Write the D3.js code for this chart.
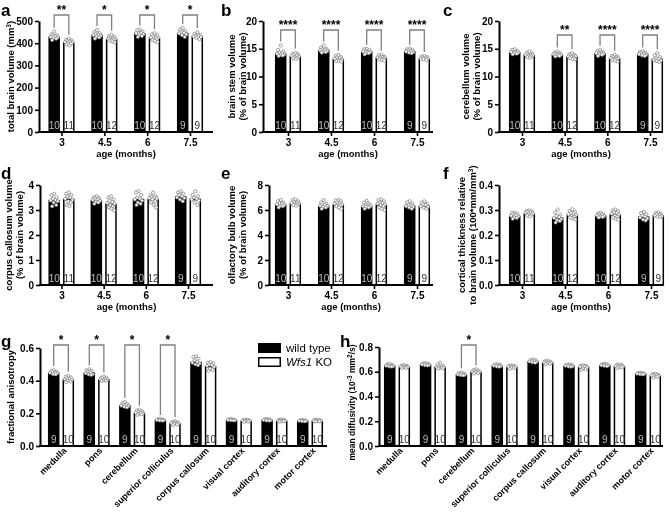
<!DOCTYPE html>
<html><head><meta charset="utf-8">
<script src="https://cdn.jsdelivr.net/npm/d3@7"></script>
<style>body{margin:0;background:#fff}svg{display:block;font-family:"Liberation Sans",Arial,sans-serif;will-change:transform}</style>
</head><body><script>
// ---------- categories ----------
const ages = ["3", "4.5", "6", "7.5"];
const regions = ["medulla", "pons", "cerebellum", "superior colliculus", "corpus callosum", "visual cortex", "auditory cortex", "motor cortex"];
const nAgeWT = [10, 10, 10, 9];
const nAgeKO = [11, 12, 12, 9];
const nRegWT = [9, 9, 9, 9, 9, 9, 9, 9];
const nRegKO = [10, 10, 10, 10, 10, 10, 10, 10];

// ---------- a: total brain volume ----------
const aMeanWT = [430, 438, 445, 447];
const aMeanKO = [405, 420, 425, 432];
const aDotsWT = [
  [452, 440, 436, 433, 430, 428, 426, 424, 420, 414],
  [460, 450, 445, 441, 438, 436, 433, 430, 426, 421],
  [462, 458, 452, 448, 446, 444, 441, 438, 432, 428],
  [468, 460, 454, 450, 447, 444, 440, 436, 428]];
const aDotsKO = [
  [420, 415, 412, 410, 407, 405, 403, 400, 398, 395, 390],
  [438, 432, 428, 425, 422, 420, 418, 416, 414, 412, 408, 404],
  [445, 440, 436, 432, 428, 426, 424, 421, 418, 414, 410, 405],
  [450, 442, 438, 434, 432, 430, 428, 424, 418]];
const aSig = ["**", "*", "*", "*"];
const aTicks = [0, 100, 200, 300, 400, 500];

// ---------- b: brain stem ----------
const bMeanWT = [14.2, 14.8, 14.5, 14.6];
const bMeanKO = [13.7, 13.2, 13.4, 13.3];
const bDotsWT = [
  [15.6, 14.8, 14.5, 14.3, 14.2, 14.1, 14.0, 13.9, 13.8, 13.7],
  [15.6, 15.2, 15.0, 14.9, 14.8, 14.7, 14.6, 14.5, 14.4, 14.3],
  [15.0, 14.9, 14.8, 14.6, 14.5, 14.5, 14.4, 14.3, 14.2, 14.0],
  [15.0, 14.9, 14.8, 14.7, 14.6, 14.5, 14.4, 14.3, 14.2]];
const bDotsKO = [
  [14.3, 14.1, 14.0, 13.9, 13.8, 13.7, 13.6, 13.5, 13.4, 13.3, 13.2],
  [13.9, 13.7, 13.5, 13.4, 13.3, 13.2, 13.1, 13.0, 12.9, 12.8, 12.8, 12.7],
  [13.9, 13.8, 13.6, 13.5, 13.5, 13.4, 13.4, 13.3, 13.2, 13.1, 13.0, 12.9],
  [13.7, 13.6, 13.5, 13.4, 13.3, 13.2, 13.2, 13.1, 13.0]];
const bSig = ["****", "****", "****", "****"];
const pctTicks = [0, 5, 10, 15, 20];

// ---------- c: cerebellum ----------
const cMeanWT = [14.4, 14.0, 14.2, 14.1];
const cMeanKO = [13.9, 13.6, 13.3, 13.2];
const cDotsWT = [
  [14.9, 14.8, 14.6, 14.5, 14.4, 14.4, 14.3, 14.2, 14.1, 14.0],
  [14.5, 14.3, 14.2, 14.1, 14.0, 14.0, 13.9, 13.8, 13.7, 13.6],
  [14.8, 14.6, 14.4, 14.3, 14.2, 14.2, 14.1, 14.0, 13.9, 13.7],
  [14.5, 14.4, 14.3, 14.2, 14.1, 14.0, 13.9, 13.8, 13.7]];
const cDotsKO = [
  [14.5, 14.3, 14.2, 14.0, 13.9, 13.9, 13.8, 13.7, 13.6, 13.5, 13.4],
  [14.2, 14.0, 13.9, 13.8, 13.7, 13.6, 13.6, 13.5, 13.4, 13.3, 13.2, 13.1],
  [13.9, 13.7, 13.6, 13.5, 13.4, 13.3, 13.3, 13.2, 13.1, 13.0, 12.9, 12.7],
  [14.2, 13.8, 13.5, 13.3, 13.2, 13.0, 12.9, 12.8, 12.6]];
const cSig = ["", "**", "****", "****"];

// ---------- d: corpus callosum ----------
const dMeanWT = [3.4, 3.4, 3.45, 3.55];
const dMeanKO = [3.45, 3.25, 3.45, 3.45];
const dDotsWT = [
  [3.65, 3.6, 3.5, 3.45, 3.4, 3.38, 3.35, 3.3, 3.2, 3.15],
  [3.55, 3.5, 3.48, 3.45, 3.42, 3.4, 3.37, 3.33, 3.3, 3.25],
  [3.75, 3.7, 3.6, 3.5, 3.45, 3.42, 3.38, 3.3, 3.25, 3.2],
  [3.75, 3.7, 3.65, 3.6, 3.55, 3.5, 3.48, 3.42, 3.35]];
const dDotsKO = [
  [3.7, 3.65, 3.6, 3.55, 3.5, 3.45, 3.4, 3.35, 3.3, 3.2, 3.15],
  [3.55, 3.5, 3.42, 3.38, 3.32, 3.28, 3.25, 3.2, 3.15, 3.1, 3.05, 2.98],
  [3.7, 3.6, 3.55, 3.52, 3.5, 3.47, 3.45, 3.42, 3.35, 3.3, 3.2, 3.1],
  [3.75, 3.6, 3.55, 3.5, 3.45, 3.42, 3.38, 3.3, 3.2]];
const dTicks = [0, 1, 2, 3, 4];

// ---------- e: olfactory bulb ----------
const eMeanWT = [6.45, 6.35, 6.35, 6.35];
const eMeanKO = [6.55, 6.45, 6.45, 6.35];
const eDotsWT = [
  [6.8, 6.7, 6.6, 6.55, 6.5, 6.45, 6.4, 6.35, 6.3, 6.2],
  [6.8, 6.6, 6.5, 6.45, 6.4, 6.35, 6.3, 6.25, 6.2, 6.1],
  [6.75, 6.6, 6.5, 6.4, 6.35, 6.3, 6.3, 6.25, 6.2, 6.1],
  [6.7, 6.6, 6.5, 6.4, 6.35, 6.3, 6.25, 6.2, 6.1]];
const eDotsKO = [
  [6.85, 6.8, 6.7, 6.65, 6.6, 6.55, 6.5, 6.5, 6.45, 6.4, 6.35],
  [6.8, 6.75, 6.7, 6.6, 6.55, 6.5, 6.45, 6.4, 6.35, 6.3, 6.2, 6.1],
  [6.85, 6.8, 6.7, 6.6, 6.55, 6.5, 6.45, 6.4, 6.3, 6.2, 6.1, 6.0],
  [6.7, 6.6, 6.5, 6.45, 6.4, 6.3, 6.25, 6.2, 6.1]];
const eTicks = [0, 2, 4, 6, 8];

// ---------- f: cortical thickness ----------
const fMeanWT = [0.277, 0.270, 0.278, 0.274];
const fMeanKO = [0.287, 0.281, 0.283, 0.280];
const fDotsWT = [
  [0.290, 0.288, 0.285, 0.282, 0.279, 0.277, 0.274, 0.271, 0.268, 0.265],
  [0.302, 0.290, 0.282, 0.276, 0.272, 0.268, 0.264, 0.260, 0.256, 0.250],
  [0.288, 0.286, 0.284, 0.282, 0.280, 0.278, 0.276, 0.274, 0.272, 0.270],
  [0.292, 0.288, 0.283, 0.278, 0.274, 0.270, 0.266, 0.262, 0.258]];
const fDotsKO = [
  [0.298, 0.296, 0.294, 0.292, 0.290, 0.288, 0.286, 0.284, 0.281, 0.278, 0.275],
  [0.303, 0.296, 0.292, 0.288, 0.285, 0.282, 0.279, 0.276, 0.273, 0.270, 0.266, 0.262],
  [0.302, 0.298, 0.295, 0.291, 0.288, 0.285, 0.282, 0.278, 0.274, 0.270, 0.265, 0.262],
  [0.290, 0.288, 0.285, 0.283, 0.280, 0.278, 0.276, 0.274, 0.272]];
const fTicks = [0, 0.1, 0.2, 0.3, 0.4];

// ---------- g: fractional anisotropy ----------
const gMeanWT = [0.45, 0.45, 0.25, 0.16, 0.515, 0.16, 0.16, 0.155];
const gMeanKO = [0.41, 0.41, 0.205, 0.14, 0.49, 0.155, 0.155, 0.155];
const gDotsWT = [
  [0.465, 0.46, 0.455, 0.452, 0.45, 0.448, 0.445, 0.44, 0.438],
  [0.47, 0.465, 0.46, 0.455, 0.45, 0.445, 0.44, 0.438, 0.435],
  [0.27, 0.262, 0.258, 0.254, 0.25, 0.247, 0.244, 0.24, 0.236],
  [0.166, 0.164, 0.162, 0.161, 0.16, 0.159, 0.158, 0.156, 0.155],
  [0.55, 0.545, 0.535, 0.525, 0.515, 0.51, 0.505, 0.5, 0.495],
  [0.165, 0.163, 0.162, 0.161, 0.16, 0.159, 0.158, 0.157, 0.156],
  [0.166, 0.164, 0.163, 0.161, 0.16, 0.159, 0.157, 0.156, 0.155],
  [0.16, 0.158, 0.157, 0.156, 0.155, 0.154, 0.153, 0.152, 0.151]];
const gDotsKO = [
  [0.43, 0.425, 0.42, 0.415, 0.41, 0.408, 0.405, 0.4, 0.395, 0.39],
  [0.425, 0.42, 0.418, 0.415, 0.41, 0.408, 0.405, 0.402, 0.4, 0.398],
  [0.222, 0.218, 0.214, 0.21, 0.206, 0.204, 0.2, 0.197, 0.194, 0.19],
  [0.152, 0.148, 0.145, 0.143, 0.141, 0.14, 0.138, 0.135, 0.132, 0.128],
  [0.515, 0.51, 0.505, 0.5, 0.495, 0.49, 0.485, 0.475, 0.465, 0.46],
  [0.162, 0.16, 0.158, 0.157, 0.156, 0.155, 0.154, 0.152, 0.15, 0.148],
  [0.163, 0.161, 0.159, 0.157, 0.156, 0.155, 0.154, 0.152, 0.15, 0.149],
  [0.162, 0.16, 0.158, 0.157, 0.156, 0.155, 0.154, 0.152, 0.151, 0.15]];
const gSig = ["*", "*", "*", "*", "", "", "", ""];
const gTicks = [0, 0.2, 0.4, 0.6];

// ---------- h: mean diffusivity ----------
const hMeanWT = [0.65, 0.66, 0.58, 0.65, 0.685, 0.65, 0.655, 0.585];
const hMeanKO = [0.64, 0.64, 0.60, 0.64, 0.675, 0.64, 0.645, 0.57];
const hDotsWT = [
  [0.665, 0.66, 0.655, 0.652, 0.65, 0.648, 0.645, 0.642, 0.64],
  [0.672, 0.668, 0.665, 0.662, 0.66, 0.658, 0.655, 0.652, 0.65],
  [0.595, 0.59, 0.585, 0.582, 0.58, 0.578, 0.575, 0.572, 0.57],
  [0.662, 0.66, 0.656, 0.652, 0.65, 0.648, 0.645, 0.642, 0.64],
  [0.7, 0.695, 0.692, 0.688, 0.685, 0.682, 0.68, 0.676, 0.672],
  [0.66, 0.658, 0.655, 0.652, 0.65, 0.648, 0.645, 0.642, 0.64],
  [0.665, 0.662, 0.66, 0.657, 0.655, 0.652, 0.65, 0.648, 0.645],
  [0.592, 0.59, 0.588, 0.586, 0.585, 0.584, 0.582, 0.58, 0.578]];
const hDotsKO = [
  [0.655, 0.65, 0.648, 0.645, 0.642, 0.64, 0.638, 0.635, 0.632, 0.63],
  [0.675, 0.66, 0.65, 0.645, 0.64, 0.638, 0.635, 0.632, 0.63, 0.628],
  [0.62, 0.615, 0.61, 0.605, 0.602, 0.6, 0.598, 0.595, 0.59, 0.585],
  [0.652, 0.65, 0.648, 0.645, 0.642, 0.64, 0.637, 0.634, 0.63, 0.625],
  [0.69, 0.686, 0.682, 0.679, 0.676, 0.674, 0.671, 0.668, 0.664, 0.66],
  [0.652, 0.65, 0.648, 0.645, 0.642, 0.64, 0.635, 0.628, 0.62, 0.615],
  [0.66, 0.657, 0.654, 0.65, 0.647, 0.645, 0.642, 0.638, 0.634, 0.63],
  [0.585, 0.582, 0.578, 0.575, 0.572, 0.57, 0.567, 0.563, 0.558, 0.552]];
const hSig = ["", "", "*", "", "", "", "", ""];
const hTicks = [0, 0.2, 0.4, 0.6, 0.8];

const legendLabels = [[{t: "wild type"}], [{t: "Wfs1", it: 1}, {t: " KO"}]];

// ---------- drawing ----------
const FONT = '"Liberation Sans", Arial, sans-serif';
const svg = d3.select("body").append("svg").attr("width", 669).attr("height", 513);
const jit = [0, -0.62, 0.62, -0.32, 0.32, -0.85, 0.85, -0.15, 0.48, -0.48, 0.15, 0.72];

function segs(sel, parts) {
  parts.forEach(p => {
    const t = sel.append("tspan").text(p.t);
    if (p.sup) t.attr("baseline-shift", "super").attr("font-size", "6.5px");
    if (p.it) t.attr("font-style", "italic");
  });
}

function panel(o) {
  const g = svg.append("g").attr("font-family", FONT);
  const y = d3.scaleLinear().domain([0, o.max]).range([o.yB, o.yT]);
  const x = d3.scalePoint().domain(o.cats).range([o.c0, o.c1]);
  const bw = o.bw, off = o.off;

  o.cats.forEach((c, i) => {
    const xw = x(c) - off, xk = x(c) + off;
    g.append("rect").attr("x", xw - bw / 2).attr("y", y(o.mWT[i])).attr("width", bw)
      .attr("height", o.yB - y(o.mWT[i])).attr("fill", "#000");
    g.append("rect").attr("x", xk - bw / 2 + 0.75).attr("y", y(o.mKO[i]) + 0.75).attr("width", bw - 1.5)
      .attr("height", o.yB - y(o.mKO[i]) - 0.75).attr("fill", "#fff").attr("stroke", "#000").attr("stroke-width", 1.5);
    g.append("text").attr("x", xw).attr("y", o.yB - 3).attr("text-anchor", "middle")
      .attr("font-size", o.nfs).attr("fill", "#bdbdbd").text(o.nWT[i]);
    g.append("text").attr("x", xk).attr("y", o.yB - 3).attr("text-anchor", "middle")
      .attr("font-size", o.nfs).attr("fill", "#333").text(o.nKO[i]);
    [[o.dWT[i], xw], [o.dKO[i], xk]].forEach(([vals, bx]) => {
      vals.slice().sort((a, b) => b - a).forEach((v, j) => {
        g.append("circle").attr("cx", bx + jit[j % jit.length] * (bw / 2 - 1.5)).attr("cy", y(v)).attr("r", o.r)
          .attr("fill", "#fff").attr("stroke", "#7a7a7a").attr("stroke-width", 0.7);
      });
    });
    if (o.sig[i]) {
      const yl = y(d3.max(o.dWT[i])) - 4, yr = y(d3.max(o.dKO[i])) - 4;
      g.append("path").attr("d", `M${xw},${yl}V${o.brY}H${xk}V${yr}`).attr("fill", "none")
        .attr("stroke", "#808080").attr("stroke-width", 1.3);
      g.append("text").attr("x", (xw + xk) / 2).attr("y", o.brY - 1).attr("text-anchor", "middle")
        .attr("font-weight", "bold").attr("font-size", 12).text(o.sig[i]);
    }
  });

  // y axis
  const ya = g.append("g").attr("transform", `translate(${o.x0},0)`)
    .call(d3.axisLeft(y).tickValues(o.ticks).tickFormat(o.fmt).tickSize(4).tickSizeOuter(0));
  ya.attr("font-family", FONT);
  ya.select(".domain").attr("stroke-width", 2);
  ya.selectAll(".tick line").attr("stroke-width", 1.6);
  ya.selectAll(".tick text").attr("x", -6).attr("font-size", 10).attr("font-weight", "bold").attr("fill", "#000");
  // x axis line
  g.append("line").attr("x1", o.x0 - 1).attr("x2", o.x1).attr("y1", o.yB).attr("y2", o.yB)
    .attr("stroke", "#000").attr("stroke-width", 2);
  if (!o.rotate) {
    const xa = g.append("g").attr("transform", `translate(0,${o.yB})`)
      .call(d3.axisBottom(x).tickSize(4).tickSizeOuter(0));
    xa.attr("font-family", FONT);
    xa.select(".domain").remove();
    xa.selectAll(".tick line").attr("stroke-width", 1.6);
    xa.selectAll(".tick text").attr("y", 14).attr("dy", 0).attr("font-size", 10).attr("font-weight", "bold").attr("fill", "#000");
    g.append("text").attr("x", (o.x0 + o.x1) / 2).attr("y", o.yB + 25).attr("text-anchor", "middle")
      .attr("font-size", 9.5).attr("font-weight", "bold").text(o.xTitle);
  } else {
    o.cats.forEach(c => {
      g.append("text").attr("transform", `translate(${x(c) + 4},${o.yB + 3}) rotate(-45)`)
        .attr("text-anchor", "end").attr("dy", "0.35em").attr("font-size", 9).attr("font-weight", "bold").text(c);
    });
  }
  // y title
  const yc = (o.yT + o.yB) / 2 + (o.tdy || 0);
  o.yTitle.forEach((line, k) => {
    const t = g.append("text").attr("transform", `translate(${o.tx + k * 11},${yc}) rotate(-90)`)
      .attr("text-anchor", "middle").attr("font-size", o.tfs || 9.5).attr("font-weight", "bold");
    segs(t, line);
  });
  // panel letter
  g.append("text").attr("x", o.lx).attr("y", o.ly).attr("font-size", 17).attr("font-weight", "bold").text(o.letter);
}

const fInt = d3.format("d"), f1 = d3.format(".1f");
const pctLine = [{t: "(% of brain volume)"}];
const row1 = {yT: 21, yB: 132, ly: 16, cats: ages, nWT: nAgeWT, nKO: nAgeKO, bw: 11.5, off: 7.3, r: 1.6, nfs: 10, xTitle: "age (months)"};
const row2 = Object.assign({}, row1, {yT: 185, yB: 285, ly: 179});
const row3 = {yT: 348, yB: 446, ly: 347, cats: regions, nWT: nRegWT, nKO: nRegKO, bw: 11.5, off: 7.3, r: 1.5, nfs: 10, rotate: true};

panel(Object.assign({}, row1, {letter: "a", lx: 1, x0: 39, x1: 213, c0: 61.5, c1: 190, max: 500, ticks: aTicks, fmt: fInt,
  mWT: aMeanWT, mKO: aMeanKO, dWT: aDotsWT, dKO: aDotsKO, sig: aSig, brY: 15, tx: 14,
  yTitle: [[{t: "total brain volume (mm"}, {t: "3", sup: 1}, {t: ")"}]]}));
panel(Object.assign({}, row1, {letter: "b", lx: 221, x0: 263, x1: 433, c0: 288, c1: 417, max: 20, ticks: pctTicks, fmt: fInt,
  mWT: bMeanWT, mKO: bMeanKO, dWT: bDotsWT, dKO: bDotsKO, sig: bSig, brY: 30, tx: 235,
  yTitle: [[{t: "brain stem volume"}], pctLine]}));
panel(Object.assign({}, row1, {letter: "c", lx: 443, x0: 499, x1: 663, c0: 522, c1: 650, max: 20, ticks: pctTicks, fmt: fInt,
  mWT: cMeanWT, mKO: cMeanKO, dWT: cDotsWT, dKO: cDotsKO, sig: cSig, brY: 35, tx: 469,
  yTitle: [[{t: "cerebellum volume"}], pctLine]}));
panel(Object.assign({}, row2, {letter: "d", lx: 1, x0: 40, x1: 213, c0: 61.5, c1: 188, max: 4, ticks: dTicks, fmt: fInt,
  mWT: dMeanWT, mKO: dMeanKO, dWT: dDotsWT, dKO: dDotsKO, sig: ["", "", "", ""], brY: 0, tx: 12,
  yTitle: [[{t: "corpus callosum volume"}], pctLine]}));
panel(Object.assign({}, row2, {letter: "e", lx: 221, x0: 269, x1: 433, c0: 288, c1: 417, max: 8, ticks: eTicks, fmt: fInt,
  mWT: eMeanWT, mKO: eMeanKO, dWT: eDotsWT, dKO: eDotsKO, sig: ["", "", "", ""], brY: 0, tx: 235,
  yTitle: [[{t: "olfactory bulb volume"}], pctLine]}));
panel(Object.assign({}, row2, {letter: "f", lx: 443, x0: 499, x1: 663, c0: 522, c1: 651, max: 0.4, ticks: fTicks, fmt: f1,
  mWT: fMeanWT, mKO: fMeanKO, dWT: fDotsWT, dKO: fDotsKO, sig: ["", "", "", ""], brY: 0, tx: 465,
  yTitle: [[{t: "cortical thickness relative"}], [{t: "to brain volume (100*mm/mm"}, {t: "3", sup: 1}, {t: ")"}]]}));
panel(Object.assign({}, row3, {letter: "g", lx: 1, x0: 40, x1: 327, c0: 61, c1: 310, max: 0.6, ticks: gTicks, fmt: f1,
  mWT: gMeanWT, mKO: gMeanKO, dWT: gDotsWT, dKO: gDotsKO, sig: gSig, brY: 345, tx: 14,
  yTitle: [[{t: "fractional anisotropy"}]]}));
panel(Object.assign({}, row3, {letter: "h", lx: 340, yT: 347, x0: 379, x1: 663, c0: 397, c1: 648, max: 0.8, ticks: hTicks, fmt: f1,
  mWT: hMeanWT, mKO: hMeanKO, dWT: hDotsWT, dKO: hDotsKO, sig: hSig, brY: 345, tx: 355, tdy: 6, tfs: 8.5,
  yTitle: [[{t: "mean diffusivity (10"}, {t: "-3", sup: 1}, {t: " mm"}, {t: "2", sup: 1}, {t: "/s)"}]]}));

// legend
const lg = svg.append("g").attr("font-family", FONT);
lg.append("rect").attr("x", 258).attr("y", 343).attr("width", 23).attr("height", 10).attr("fill", "#000");
lg.append("rect").attr("x", 258.75).attr("y", 357.75).attr("width", 21.5).attr("height", 8.5).attr("fill", "#fff")
  .attr("stroke", "#000").attr("stroke-width", 1.5);
legendLabels.forEach((parts, k) => {
  const t = lg.append("text").attr("x", 286).attr("y", 352 + k * 14).attr("font-size", 11.5);
  segs(t, parts);
});
</script></body></html>
